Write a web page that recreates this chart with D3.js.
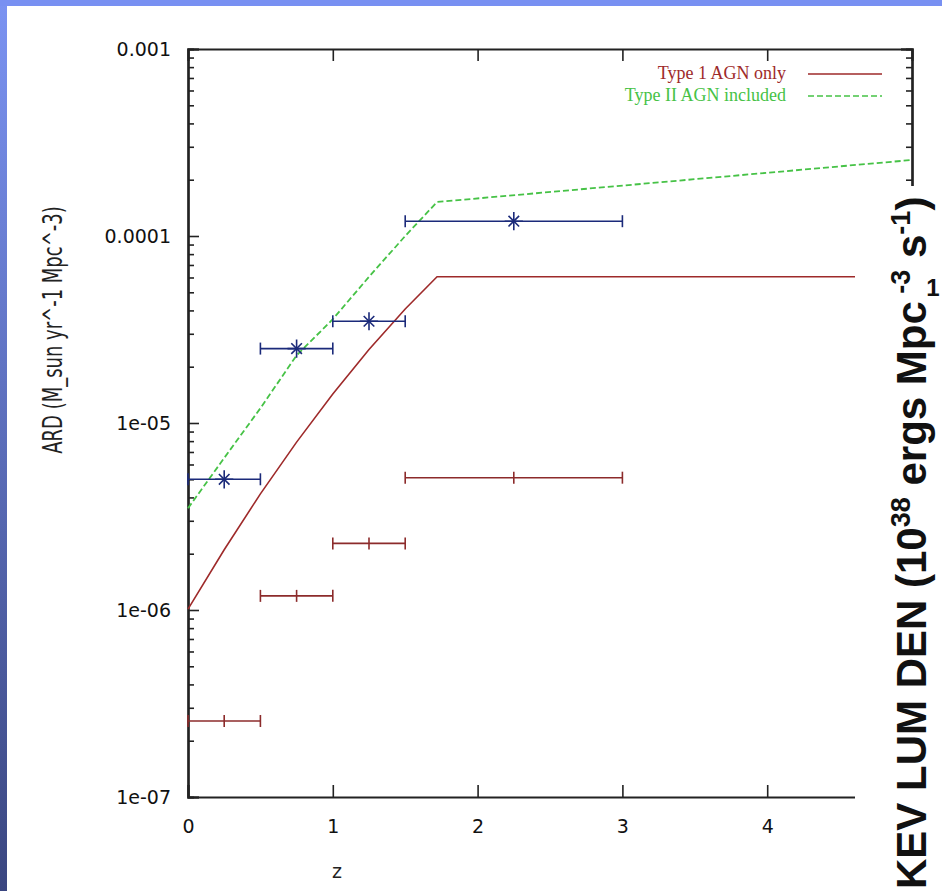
<!DOCTYPE html>
<html>
<head>
<meta charset="utf-8">
<style>
  body { margin: 0; background: #fff; }
  svg { display: block; }
</style>
</head>
<body>
<svg width="942" height="891"></svg>
<script src="https://cdn.jsdelivr.net/npm/d3@7/dist/d3.min.js"></script>
<script>
// data
const redLineZ = [0, 0.25, 0.5, 0.75, 1.0, 1.25, 1.5, 1.72, 5];
const redLineV = [1.01e-6, 2.1e-6, 4.18e-6, 7.9e-6, 1.43e-5, 2.47e-5, 4.07e-5, 6.05e-5, 6.05e-5];
const greenLineZ = [0, 0.25, 0.5, 0.75, 1.0, 1.25, 1.5, 1.72, 5];
const greenLineV = [3.5e-6, 6.5e-6, 1.2e-5, 2.3e-5, 3.59e-5, 6.05e-5, 1.0e-4, 1.52e-4, 2.55e-4];
const binLo = [0, 0.5, 1.0, 1.5];
const binHi = [0.5, 1.0, 1.5, 3.0];
const binMid = [0.25, 0.75, 1.25, 2.25];
const blueV = [5.0e-6, 2.5e-5, 3.5e-5, 1.2e-4];
const redV = [2.55e-7, 1.19e-6, 2.27e-6, 5.1e-6];
const yTicks = [1e-7, 1e-6, 1e-5, 1e-4, 1e-3];
const yTickLabels = ['1e-07', '1e-06', '1e-05', '0.0001', '0.001'];
const xTicks = [0, 1, 2, 3, 4];
const legendNames = ['Type 1 AGN only', 'Type II AGN included'];

const svg = d3.select('svg');
const W = 942, H = 891;

// blue slide edges
const defs = svg.append('defs');
const grad = defs.append('linearGradient').attr('id', 'edge').attr('x1', 0).attr('y1', 0).attr('x2', 0).attr('y2', 1);
grad.append('stop').attr('offset', '0%').attr('stop-color', '#7b93f2');
grad.append('stop').attr('offset', '100%').attr('stop-color', '#3a4680');
svg.append('rect').attr('x', 0).attr('y', 0).attr('width', 7).attr('height', H).attr('fill', 'url(#edge)');
svg.append('rect').attr('x', 0).attr('y', 0).attr('width', W).attr('height', 6).attr('fill', '#7890f2');

const x = d3.scaleLinear().domain([0, 5]).range([188, 912]);
const y = d3.scaleLog().domain([1e-7, 1e-3]).range([797, 49]);

const axisCol = '#222';
const minorTicks = y.ticks().filter(t => !yTicks.some(m => Math.abs(m - t) / t < 1e-6));

// y axes, ticks pointing inward
svg.append('g').attr('transform', 'translate(188,0)')
  .call(d3.axisLeft(y).tickValues(minorTicks).tickSize(-6).tickFormat(''));
svg.append('g').attr('transform', 'translate(188,0)')
  .call(d3.axisLeft(y).tickValues(yTicks).tickSize(-11).tickPadding(17)
    .tickFormat((d, i) => yTickLabels[i]));
svg.append('g').attr('transform', 'translate(912,0)')
  .call(d3.axisRight(y).tickValues(minorTicks).tickSize(-6).tickFormat(''));
svg.append('g').attr('transform', 'translate(912,0)')
  .call(d3.axisRight(y).tickValues(yTicks).tickSize(-11).tickFormat(''));

// x axes
svg.append('g').attr('transform', 'translate(0,797)')
  .call(d3.axisBottom(x).tickValues(xTicks).tickSize(-12).tickPadding(23).tickFormat(d3.format('d')));
svg.append('g').attr('transform', 'translate(0,49)')
  .call(d3.axisTop(x).tickValues(xTicks.slice(1)).tickSize(-12).tickFormat(''));

svg.selectAll('.domain').attr('stroke', axisCol).attr('stroke-width', 2.2);
svg.selectAll('.tick line').attr('stroke', axisCol).attr('stroke-width', 1.6);
svg.selectAll('.tick text').attr('fill', '#111').attr('font-family', 'DejaVu Sans').attr('font-size', 19);

// axis titles
svg.append('text').attr('x', 337).attr('y', 878).attr('text-anchor', 'middle')
  .attr('font-family', 'DejaVu Sans').attr('font-size', 19).attr('fill', '#222').text('z');
svg.append('text').attr('transform', 'translate(62,330) rotate(-90) scale(1,1.35)').attr('text-anchor', 'middle')
  .attr('font-family', 'DejaVu Sans Condensed, DejaVu Sans').attr('font-size', 20).attr('fill', '#222')
  .text('ARD (M_sun yr^-1 Mpc^-3)');

// model lines
const line = d3.line().x(d => x(d[0])).y(d => y(d[1]));
const redCol = '#9e2a2a', greenCol = '#46c246', blueCol = '#1b2a7a', redBar = '#8c2b2b';
svg.append('path').datum(d3.zip(redLineZ, redLineV)).attr('d', line)
  .attr('fill', 'none').attr('stroke', redCol).attr('stroke-width', 1.6);
svg.append('path').datum(d3.zip(greenLineZ, greenLineV)).attr('d', line)
  .attr('fill', 'none').attr('stroke', greenCol).attr('stroke-width', 1.8).attr('stroke-dasharray', '6,3');

// error bars
function bars(vals, col, centerTick) {
  const g = svg.append('g').attr('stroke', col).attr('stroke-width', 1.6).attr('fill', 'none');
  vals.forEach((v, i) => {
    g.append('line').attr('x1', x(binLo[i])).attr('x2', x(binHi[i])).attr('y1', y(v)).attr('y2', y(v));
    [binLo[i], binHi[i]].concat(centerTick ? [binMid[i]] : []).forEach(z => {
      g.append('line').attr('x1', x(z)).attr('x2', x(z)).attr('y1', y(v) - 6).attr('y2', y(v) + 6);
    });
  });
}
bars(redV, redBar, true);
bars(blueV, blueCol, false);

// star markers
const plus = d3.symbol().type(d3.symbolPlus).size(110);
const times = d3.symbol().type(d3.symbolTimes).size(75);
blueV.forEach((v, i) => {
  const g = svg.append('g').attr('transform', `translate(${x(binMid[i])},${y(v)})`)
    .attr('stroke', blueCol).attr('stroke-width', 1.6).attr('fill', 'none');
  g.append('path').attr('d', plus());
  g.append('path').attr('d', times());
});

// legend
const legCols = [redCol, greenCol];
legendNames.forEach((name, i) => {
  const ly = 74 + i * 22;
  svg.append('text').attr('x', 786).attr('y', ly + 5).attr('text-anchor', 'end')
    .attr('font-family', 'Liberation Serif').attr('font-size', 18).attr('fill', legCols[i]).text(name);
  svg.append('line').attr('x1', 808).attr('x2', 882).attr('y1', ly).attr('y2', ly)
    .attr('stroke', legCols[i]).attr('stroke-width', 1.6)
    .attr('stroke-dasharray', i ? '6,3' : null);
});

// overlapping slide label on the right
svg.append('rect').attr('x', 855).attr('y', 186).attr('width', W - 855).attr('height', H - 186).attr('fill', '#fff');
const lab = svg.append('text').attr('transform', 'translate(926,889) rotate(-90)')
  .attr('font-family', 'Liberation Sans').attr('font-weight', 'bold').attr('font-size', 42).attr('fill', '#111');
lab.append('tspan').text('KEV LUM DEN (10');
lab.append('tspan').attr('dy', -16).attr('font-size', 27).text('38');
lab.append('tspan').attr('dy', 16).text(' ergs Mpc');
lab.append('tspan').attr('dy', -16).attr('font-size', 27).text(' -3');
lab.append('tspan').attr('dy', 16).text(' s');
lab.append('tspan').attr('dy', -16).attr('font-size', 27).text('-1');
lab.append('tspan').attr('dy', 16).text(')');
svg.append('text').attr('x', 933).attr('y', 296).attr('text-anchor', 'middle')
  .attr('font-family', 'Liberation Sans').attr('font-weight', 'bold').attr('font-size', 24).attr('fill', '#111').text('1');
</script>
</body>
</html>
